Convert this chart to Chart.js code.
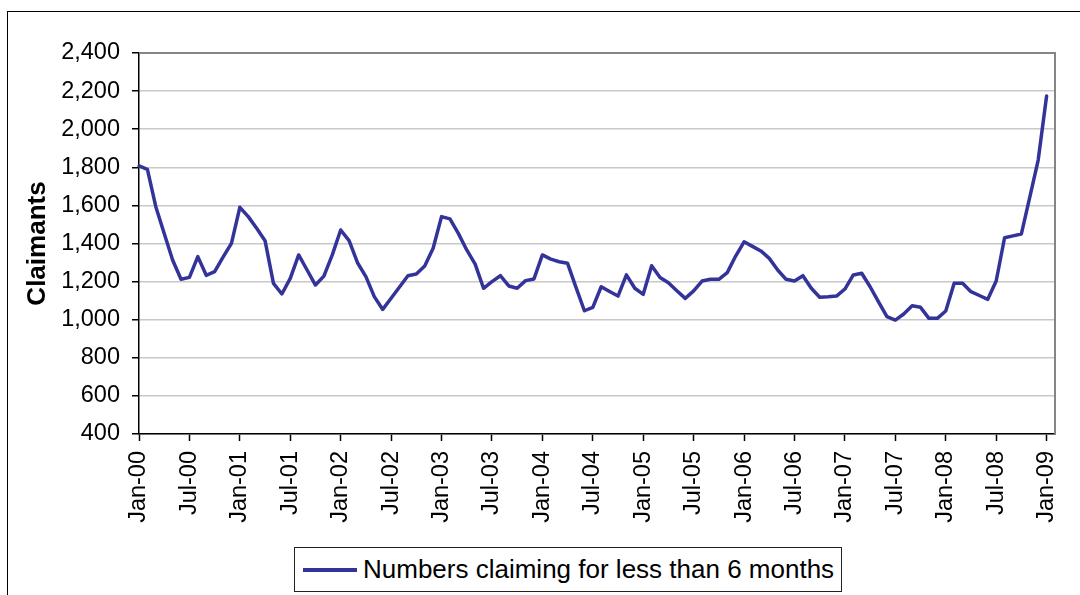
<!DOCTYPE html>
<html>
<head>
<meta charset="utf-8">
<script src="https://cdn.jsdelivr.net/npm/chart.js@4"></script>
<style>
  html, body { margin: 0; padding: 0; background: #fff; overflow: hidden; }
  #wrap { position: relative; width: 1080px; height: 595px; }
  #frame { position: absolute; left: 7px; top: 11px; width: 1200px; height: 700px;
           border-left: 1.5px solid #000; border-top: 1.5px solid #000; }
  #chart { position: absolute; left: 0; top: 0; }
  #legend { position: absolute; left: 294px; top: 547px; width: 548px; height: 45px;
            box-sizing: border-box; border: 1px solid #222; background: #fff;
            font-family: Arial, "Liberation Sans", sans-serif; font-size: 26px; color: #000; }
  #legend .swatch { position: absolute; left: 8px; top: 20px; width: 54px; height: 4px; background: #333399; }
  #legend .label { position: absolute; left: 68px; top: 0; line-height: 43px; white-space: nowrap; }
</style>
</head>
<body>
<div id="wrap">
  <div id="frame"></div>
  <canvas id="chart" width="1080" height="595"></canvas>
  <div id="legend"><span class="swatch"></span><span class="label" id="legendText"></span></div>
</div>
<script>
const monthNames = ["Jan", "Feb", "Mar", "Apr", "May", "Jun", "Jul", "Aug", "Sep", "Oct", "Nov", "Dec"];
const yearLabels = ["00", "01", "02", "03", "04", "05", "06", "07", "08", "09"];

// monthly claimant counts
const claims2000 = [1807, 1789, 1593, 1453, 1313, 1212, 1222, 1331, 1233, 1252, 1328, 1401];
const claims2001 = [1590, 1541, 1480, 1415, 1191, 1135, 1217, 1340, 1261, 1182, 1229, 1340];
const claims2002 = [1471, 1415, 1299, 1226, 1121, 1054, 1113, 1172, 1231, 1240, 1282, 1375];
const claims2003 = [1541, 1529, 1453, 1366, 1292, 1165, 1200, 1231, 1177, 1165, 1205, 1214];
const claims2004 = [1340, 1318, 1304, 1296, 1170, 1047, 1065, 1173, 1148, 1124, 1235, 1165];
const claims2005 = [1133, 1283, 1222, 1194, 1152, 1112, 1151, 1203, 1212, 1212, 1247, 1334];
const claims2006 = [1409, 1385, 1361, 1322, 1261, 1212, 1203, 1231, 1165, 1118, 1120, 1124];
const claims2007 = [1161, 1235, 1244, 1173, 1094, 1016, 998, 1030, 1073, 1065, 1007, 1007];
const claims2008 = [1046, 1191, 1191, 1147, 1127, 1107, 1203, 1430, 1440, 1450, 1644, 1838];
const claims2009 = [2174];

const seriesLabel = "Numbers claiming for less than 6 months";
const yTitle = "Claimants";
const yMin = 400;
const yMax = 2400;
const yStep = 200;

const values = [].concat(claims2000, claims2001, claims2002, claims2003, claims2004,
  claims2005, claims2006, claims2007, claims2008, claims2009);

const categories = [];
for (const yr of yearLabels) {
  for (const m of monthNames) {
    if (categories.length < values.length) categories.push(`${m}-${yr}`);
  }
}
// one empty slot after Jan-09, the plot runs a month past the last point
categories.push("");

const fontFamily = 'Arial, "Liberation Sans", sans-serif';

const plotFrame = {
  id: "plotFrame",
  beforeDatasetsDraw(chart) {
    const { ctx, chartArea: a } = chart;
    ctx.save();
    ctx.strokeStyle = "#858585";
    ctx.lineWidth = 2;
    ctx.beginPath();
    ctx.moveTo(a.left, a.top);
    ctx.lineTo(a.right, a.top);
    ctx.lineTo(a.right, a.bottom);
    ctx.stroke();
    ctx.restore();
  },
};

document.getElementById("legendText").textContent = seriesLabel;

new Chart(document.getElementById("chart"), {
  type: "line",
  data: {
    labels: categories,
    datasets: [{
      label: seriesLabel,
      data: values,
      borderColor: "#333399",
      borderWidth: 3.5,
      pointRadius: 0,
      tension: 0,
      borderJoinStyle: "round",
      borderCapStyle: "round",
      fill: false,
    }],
  },
  options: {
    responsive: false,
    devicePixelRatio: 1,
    animation: false,
    layout: { padding: { left: 0, top: 53, right: 25, bottom: 0 } },
    plugins: {
      legend: { display: false },
      tooltip: { enabled: false },
    },
    scales: {
      x: {
        type: "category",
        offset: false,
        afterBuildTicks: (scale) => {
          scale.ticks = scale.ticks.filter((t) => t.value % 6 === 0 && t.value < values.length);
        },
        afterFit: (scale) => {
          scale.height = 161;
          scale.paddingLeft = 0;
          scale.paddingRight = 0;
        },
        grid: { drawOnChartArea: false, drawTicks: true, tickLength: 7, tickColor: "#000", tickWidth: 1.5 },
        border: { color: "#000", width: 1.5 },
        ticks: {
          autoSkip: false,
          minRotation: 90,
          maxRotation: 90,
          padding: 10,
          color: "#000",
          font: { family: fontFamily, size: 23.5 },
        },
      },
      y: {
        min: yMin,
        max: yMax,
        afterFit: (scale) => {
          scale.width = 139;
          scale.paddingTop = 0;
          scale.paddingBottom = 0;
        },
        grid: { color: "#c8c8c8", lineWidth: 1.5, tickColor: "#000", tickLength: 7, tickWidth: 1.5 },
        border: { color: "#000", width: 1.5 },
        ticks: {
          stepSize: yStep,
          padding: 12,
          color: "#000",
          font: { family: fontFamily, size: 23.5 },
          callback: (v) => v.toLocaleString("en-US"),
        },
        title: {
          display: true,
          text: yTitle,
          color: "#000",
          font: { family: fontFamily, size: 26, weight: "bold" },
          padding: { top: 22, bottom: 0 },
        },
      },
    },
  },
  plugins: [plotFrame],
});
</script>
</body>
</html>
